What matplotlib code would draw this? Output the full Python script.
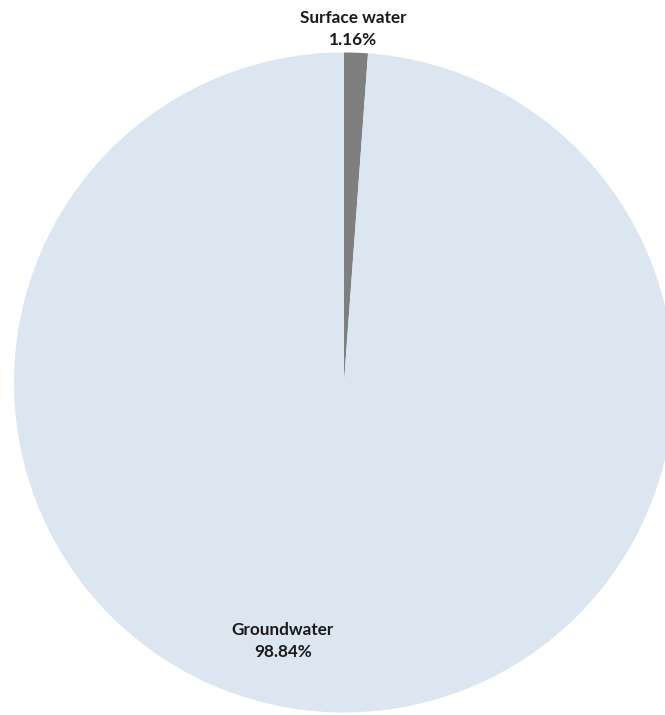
import matplotlib
matplotlib.use("Agg")

import matplotlib.pyplot as plt

# water source shares (%)
sources = ["Surface water", "Groundwater"]
shares = [1.16, 98.84]
colors = ["#7f7f7f", "#dce6f1"]

W, H = 665, 715
fig = plt.figure(figsize=(W / 100, H / 100), dpi=100)
ax = fig.add_axes([0, 0, 1, 1])

cx, cy, r = 344, H - 382.5, 330
ax.pie(shares, colors=colors, startangle=90, counterclock=False,
       center=(cx, cy), radius=r, frame=True,
       wedgeprops=dict(linewidth=0))
ax.set_xlim(0, W)
ax.set_ylim(0, H)
ax.set_aspect("equal")
ax.axis("off")

# ---- LABELS ----
label_pos = [(353, H - 29), (283, H - 641)]
for name, val, (x, y) in zip(sources, shares, label_pos):
    ax.text(x, y, f"{name}\n{val:.2f}%", ha="center", va="center",
            fontsize=12.3, fontweight="bold", family="Lato",
            color="#1a1a1a", linespacing=1.5)

fig.savefig("out.png", dpi=100)
plt.close(fig)
